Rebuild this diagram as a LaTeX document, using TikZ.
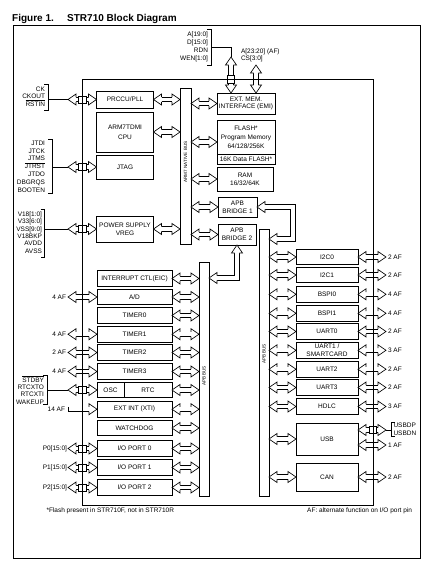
\documentclass[tikz,border=0pt]{standalone}
\usepackage{fontspec}
\setmainfont{Liberation Sans}
\usetikzlibrary{calc}
\newcommand\fs{\fontsize{6.5}{7.6}\selectfont}
\newcommand\tinyfs{\fontsize{4.6}{5.4}\selectfont}
\newcommand\ovl[1]{$\overline{\hbox{#1}}$}
\tikzset{
  blk/.style={draw, line width=0.9pt, fill=white, inner sep=0pt, outer sep=0pt, align=center, font=\fs},
  busbox/.style={draw, line width=0.9pt, fill=white, inner sep=0pt, outer sep=0pt},
  lbl/.style={inner sep=0pt, outer sep=0pt, font=\fs},
  vlbl/.style={inner sep=0pt, outer sep=0pt, rotate=90, font=\tinyfs},
  fat/.style={line width=0.65pt},
  pad/.style={draw, line width=0.65pt, fill=white, minimum width=8pt, minimum height=7pt, inner sep=0pt, outer sep=0pt},
  brk/.style={line width=0.75pt},
  wire/.style={line width=0.75pt},
}
\newcommand\fathead[2]{%
  \filldraw[fat, fill=white] ($(#1)!8pt!(#2)!2.3pt!90:(#2)$) -- ($(#1)!8pt!(#2)!5.5pt!90:(#2)$) -- (#1) -- ($(#1)!8pt!(#2)!5.5pt!-90:(#2)$) -- ($(#1)!8pt!(#2)!2.3pt!-90:(#2)$);}
\newcommand\fatdbl[2]{%
  \draw[fat, double distance=3.95pt] ($(#1)!8pt!(#2)$) -- ($(#2)!8pt!(#1)$);
  \fathead{#1}{#2}\fathead{#2}{#1}}
\newcommand\fatone[2]{%
  \draw[fat, double distance=3.95pt] (#1) -- ($(#2)!8pt!(#1)$);
  \draw[fat] ($(#1)!2.3pt!90:(#2)$) -- ($(#1)!2.3pt!-90:(#2)$);
  \fathead{#2}{#1}}
\newcommand\hconn[2]{%
  \coordinate (hcA) at (#1); \coordinate (hcB) at (#2 |- #1);
  \fatdbl{hcA}{hcB}}
\begin{document}
\begin{tikzpicture}[x=1pt,y=-1pt]
\useasboundingbox (0,0) rectangle (431,568);
\draw[line width=0.9pt] (13,25) rectangle (420.5,558);
\node[anchor=base west, inner sep=0pt, font=\bfseries\fontsize{10}{12}\selectfont] (fig) at (12,21.5) {Figure 1.};
\node[anchor=base west, inner sep=0pt, font=\bfseries\fontsize{10}{12}\selectfont] (ttl) at (67,21.5) {STR710 Block Diagram};

% ---------- buses
\node[busbox, minimum width=11pt, minimum height=156pt] (ahb) at (185.5,166) {};
\node[vlbl] (ahbl) at (185.5,162) {ARM7 NATIVE BUS};
\node[busbox, minimum width=10pt, minimum height=234pt] (apbA) at (204,379) {};
\node[vlbl] (apbAl) at (204,376) {APB BUS};
\node[busbox, minimum width=10pt, minimum height=267pt] (apbB) at (264,362.5) {};
\node[vlbl] (apbBl) at (264,354) {APB BUS};

% ---------- core blocks
\node[blk, minimum width=57pt, minimum height=17pt] (prccu) at (125,99.5) {PRCCU/PLL};
\node[blk, minimum width=57pt, minimum height=40pt] (cpu) at (125,132) {ARM7TDMI\\[2pt]CPU};
\node[blk, minimum width=57pt, minimum height=24pt] (jtag) at (125,167) {JTAG};
\node[blk, minimum width=57pt, minimum height=26pt] (ps) at (125,229) {POWER SUPPLY\\VREG};
\node[blk, minimum width=58pt, minimum height=21pt] (emi) at (246,103.5) {EXT. MEM.\\INTERFACE (EMI)};
\node[blk, minimum width=58pt, minimum height=44pt] (flash) at (246,142) {};
\draw[line width=0.9pt] (flash.west |- 0,154) -- (flash.east |- 0,154);
\node[lbl, align=center] (flt) at (246,137.5) {FLASH*\\[1.5pt]Program Memory\\[1.5pt]64/128/256K};
\node[lbl] (fld) at (246,159) {16K Data FLASH*};
\node[blk, minimum width=56pt, minimum height=24pt] (ram) at (245,179) {RAM\\16/32/64K};
\node[blk, minimum width=39pt, minimum height=20pt] (br1) at (237.5,207) {APB\\BRIDGE 1};
\node[blk, minimum width=38pt, minimum height=21pt] (br2) at (237,234.5) {APB\\BRIDGE 2};

% ---------- APB1 peripherals
\tikzset{lp/.style={blk, minimum width=75pt, minimum height=15.5pt}}
\node[lp] (eic) at (134.5,278.5) {INTERRUPT CTL(EIC)};
\node[lp] (ad) at (134.5,297) {A/D};
\node[lp] (t0) at (134.5,315.5) {TIMER0};
\node[lp] (t1) at (134.5,334.2) {TIMER1};
\node[lp] (t2) at (134.5,352.5) {TIMER2};
\node[lp] (t3) at (134.5,371.5) {TIMER3};
\node[lp] (osc) at (134.5,390) {};
\draw[line width=0.9pt] (124,0 |- osc.north) -- (124,0 |- osc.south);
\node[lbl] (osct) at (110.5,390) {OSC};
\node[lbl] (rtct) at (148,390) {RTC};
\node[lp] (xti) at (134.5,409.2) {EXT INT (XTI)};
\node[lp] (wdg) at (134.5,428) {WATCHDOG};
\node[lp] (io0) at (134.5,448.5) {I/O PORT 0};
\node[lp] (io1) at (134.5,467.5) {I/O PORT 1};
\node[lp] (io2) at (134.5,487.5) {I/O PORT 2};

% ---------- APB2 peripherals
\tikzset{rp/.style={blk, minimum width=62pt, minimum height=15.5pt}}
\node[rp] (i2c0) at (327,257) {I2C0};
\node[rp] (i2c1) at (327,275) {I2C1};
\node[rp] (bspi0) at (327,294.3) {BSPI0};
\node[rp] (bspi1) at (327,313.3) {BSPI1};
\node[rp] (uart0) at (327,331.5) {UART0};
\node[rp, align=center] (uart1) at (327,350.3) {UART1 /\\SMARTCARD};
\node[rp] (uart2) at (327,369.2) {UART2};
\node[rp] (uart3) at (327,387.5) {UART3};
\node[rp] (hdlc) at (327,406.5) {HDLC};
\node[rp, minimum height=32pt] (usb) at (327,439) {USB};
\node[rp, minimum height=28pt] (can) at (327,477) {CAN};

% ---------- AHB connections
\hconn{prccu.east}{ahb.west}
\hconn{cpu.east}{ahb.west}
\hconn{ps.east}{ahb.west}
\hconn{emi.west}{ahb.east}
\hconn{flash.west}{ahb.east}
\hconn{ram.west}{ahb.east}
\hconn{br1.west}{ahb.east}
\hconn{br2.west}{ahb.east}

% ---------- APB bus connections
\foreach \n in {eic,ad,t0,t1,t2,t3,osc,xti,wdg,io0,io1,io2}{\hconn{\n.east}{apbA.west}}
\foreach \n in {i2c0,i2c1,bspi0,bspi1,uart0,uart1,uart2,uart3,hdlc,usb,can}{\hconn{\n.west}{apbB.east}}

% ---------- bridge pipes
\coordinate (p1a) at (293,0 |- br1.east);
\coordinate (p1b) at (293,239);
\coordinate (p1c) at (apbB.east |- p1b);
\draw[fat, double distance=3.95pt] ($(br1.east)!8pt!(p1a)$) -- (p1a) -- (p1b) -- ($(p1c)!8pt!(p1b)$);
\fathead{br1.east}{p1a}\fathead{p1c}{p1b}
\coordinate (p2a) at (br2.south |- 0,278);
\coordinate (p2c) at (apbA.east |- p2a);
\draw[fat, double distance=3.95pt] ($(br2.south)!8pt!(p2a)$) -- (p2a) -- ($(p2c)!8pt!(p2a)$);
\fathead{br2.south}{p2a}\fathead{p2c}{p2a}

% ---------- top: EMI signals
\node[lbl, align=right, anchor=east, font=\fontsize{6.5}{8}\selectfont] (emig) at (208,47) {A[19:0]\\D[15:0]\\RDN\\WEN[1:0]};
\draw[brk] (207,29) -- (211,29) -- (211,65) -- (207,65);
\coordinate (emib) at (211,47);
\coordinate (emiT) at (231,57);
\coordinate (emiB) at (emiT |- emi.north);
\draw[wire] (emib) -| (emiT);
\fatdbl{emiT}{emiB}
\node[lbl, align=left, anchor=west, font=\fontsize{6.5}{7.6}\selectfont] (csg) at (241,55.5) {A[23:20] (AF)\\CS[3:0]};
\coordinate (csT) at (256,65);
\coordinate (csB) at (csT |- emi.north);
\fatdbl{csT}{csB}

% ---------- left side signal groups
\node[lbl, align=right, anchor=east, font=\fontsize{6.5}{7.5}\selectfont] (ckg) at (45,96.5) {CK\\CKOUT\\\ovl{RSTIN}};
\draw[brk] (44,84) -- (48,84) -- (48,110) -- (44,110);
\coordinate (ckb) at (48,0 |- prccu.west);
\coordinate (ckp) at (68,0 |- prccu.west);
\draw[wire] (ckb) -- (ckp);
\fatdbl{ckp}{prccu.west}

\node[lbl, align=right, anchor=east, font=\fontsize{6.5}{7.8}\selectfont] (jtg) at (45,166.5) {JTDI\\JTCK\\JTMS\\\ovl{JTRST}\\JTDO\\DBGRQS\\BOOTEN};
\draw[brk] (48,139) -- (52,139) -- (52,193) -- (48,193);
\coordinate (jtb) at (52,0 |- jtag.west);
\coordinate (jtp) at (68,0 |- jtag.west);
\draw[wire] (jtb) -- (jtp);
\fatdbl{jtp}{jtag.west}

\node[lbl, align=right, anchor=east, font=\fontsize{6.5}{7.4}\selectfont] (psg) at (42,232.5) {V18[1:0]\\V33[6:0]\\VSS[9:0]\\V18BKP\\AVDD\\AVSS};
\draw[brk] (40.5,209) -- (44.5,209) -- (44.5,257) -- (40.5,257);
\coordinate (psb) at (44.5,0 |- ps.west);
\coordinate (psp) at (68,0 |- ps.west);
\draw[wire] (psb) -- (psp);
\fatdbl{psp}{ps.west}

\node[lbl, align=right, anchor=east, font=\fontsize{6.5}{7.2}\selectfont] (stg) at (44,390) {\ovl{STDBY}\\RTCXTO\\RTCXTI\\WAKEUP};
\draw[brk] (43,375) -- (47,375) -- (47,404) -- (43,404);
\coordinate (stb) at (47,0 |- osc.west);
\coordinate (stp) at (68,0 |- osc.west);
\draw[wire] (stb) -- (stp);
\fatdbl{stp}{osc.west}

% ---------- left AF arrows
\foreach \n/\t in {ad/4 AF, t1/4 AF, t2/2 AF, t3/4 AF}{
  \coordinate (lp\n) at (68,0 |- \n.west);
  \fatdbl{lp\n}{\n.west}
  \node[lbl, anchor=east] (lt\n) at (66,0 |- \n.west) {\t};
}
\coordinate (lpxti) at (68.5,0 |- xti.west);
\fatone{lpxti}{xti.west}
\node[lbl, anchor=east] (ltxti) at (65,0 |- xti.west) {14 AF};

\foreach \n/\t in {io0/P0[15:0], io1/P1[15:0], io2/P2[15:0]}{
  \coordinate (lp\n) at (68,0 |- \n.west);
  \fatdbl{lp\n}{\n.west}
  \node[lbl, anchor=east] (lt\n) at (67,0 |- \n.west) {\t};
}

% ---------- right AF arrows
\foreach \n/\t in {i2c0/2 AF, i2c1/2 AF, bspi0/4 AF, bspi1/4 AF, uart0/2 AF, uart1/3 AF, uart2/2 AF, uart3/2 AF, hdlc/3 AF, can/2 AF}{
  \coordinate (rp\n) at (386,0 |- \n.east);
  \fatdbl{\n.east}{rp\n}
  \node[lbl, anchor=west] (rt\n) at (388,0 |- \n.east) {\t};
}
\coordinate (usbA) at (usb.east |- 0,430);
\coordinate (usbT) at (386,430);
\fatdbl{usbA}{usbT}
\coordinate (usbA2) at (usb.east |- 0,445);
\coordinate (usbT2) at (386,445);
\fatdbl{usbA2}{usbT2}
\node[lbl, anchor=west] (usbaf) at (388,445) {1 AF};
\coordinate (usbb) at (391,430);
\draw[wire] (usbT) -- (usbb);
\draw[brk] (395,422) -- (391,422) -- (391,436) -- (395,436);
\node[lbl, align=left, anchor=west, font=\fontsize{6.5}{7.6}\selectfont] (usbg) at (393.5,429) {USBDP\\USBDN};

% ---------- pads
\node[pad] (pck) at (82,0 |- prccu.west) {};
\node[pad] (pjt) at (82,0 |- jtag.west) {};
\node[pad] (pps) at (82,0 |- ps.west) {};
\node[pad] (pst) at (82,0 |- osc.west) {};
\node[pad] (pio0) at (82,0 |- io0.west) {};
\node[pad] (pio1) at (82,0 |- io1.west) {};
\node[pad] (pio2) at (82,0 |- io2.west) {};
\node[pad, minimum width=7pt, minimum height=8pt] (pemi) at (emiT |- 0,79.5) {};
\node[pad, minimum width=7pt] (pusb) at (373,430) {};

% ---------- chip boundary
\draw[line width=0.9pt] (82,79.5) rectangle (373,505);

% ---------- footnotes
\node[lbl, anchor=west] (fn1) at (46.5,511) {*Flash present in STR710F, not in STR710R};
\node[lbl, anchor=east] (fn2) at (412,511) {AF: alternate function on I/O port pin};
\end{tikzpicture}
\end{document}
